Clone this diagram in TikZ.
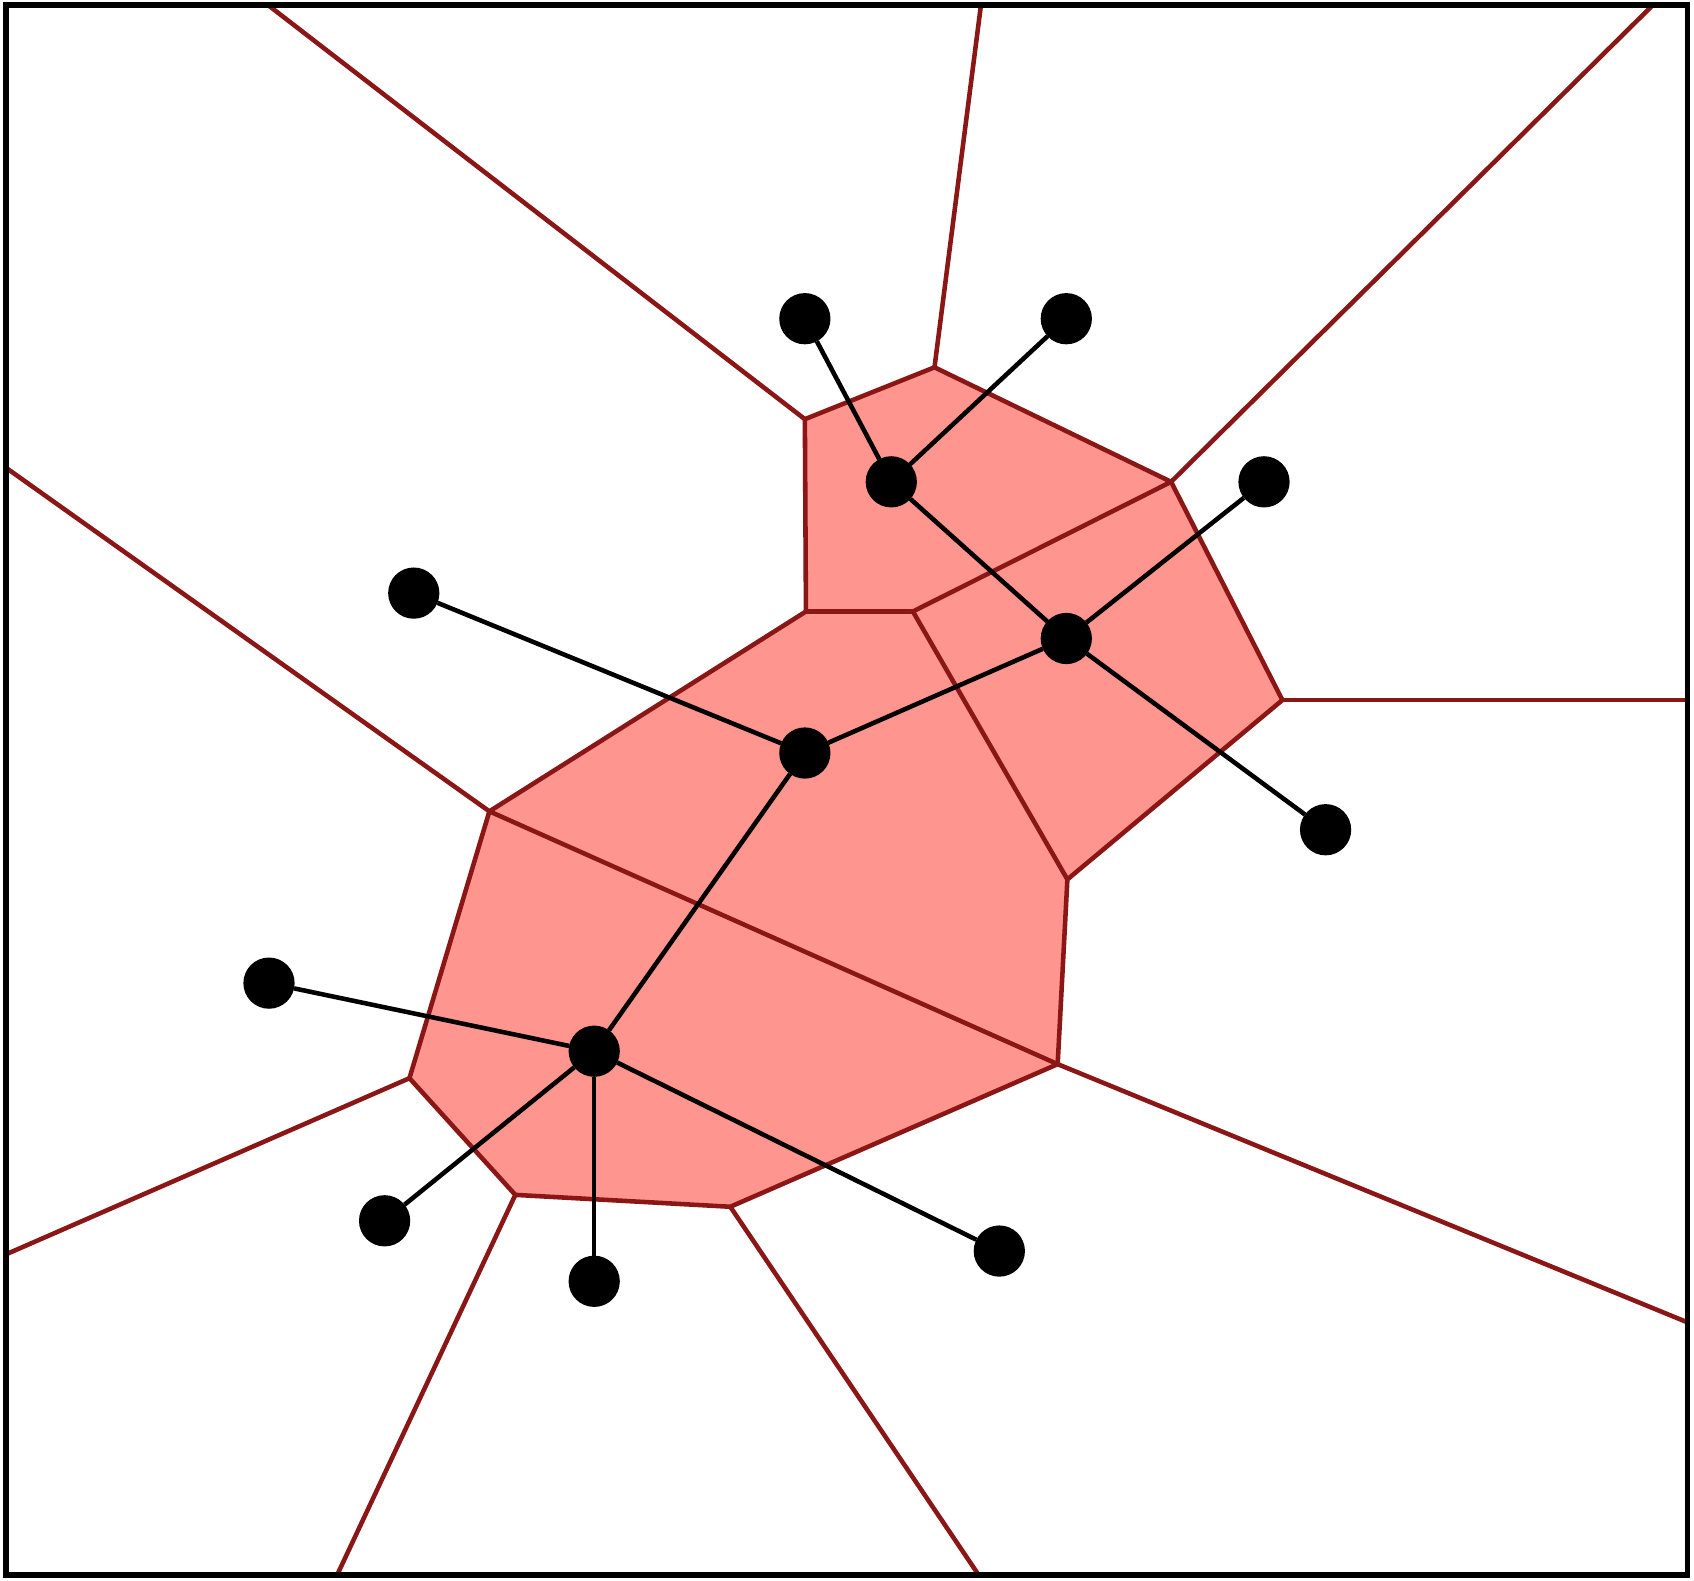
\documentclass[tikz,border=0pt]{standalone}
\usepackage{xcolor}
\usepackage{tikz}

\definecolor{celledge}{HTML}{8B1616}
\definecolor{cellfill}{HTML}{FE968F}

\tikzset{
    site/.style={draw, circle, fill=black, inner sep=0pt, minimum size=0.46cm},
    link/.style={line width=1.2pt, black},
    wall/.style={line width=1.2pt, celledge, line join=miter}
}

\begin{document}
\begin{tikzpicture}[x=0.01cm, y=-0.01cm]
    \useasboundingbox (0, 0) rectangle (1568, 1463);
    % corners of the shaded cells
    \coordinate (A) at (745, 388);
    \coordinate (B) at (865, 340);
    \coordinate (C) at (1084, 446);
    \coordinate (D) at (1187, 648);
    \coordinate (E) at (988, 814);
    \coordinate (F) at (979, 985);
    \coordinate (G) at (676, 1117);
    \coordinate (H) at (477, 1106);
    \coordinate (I) at (379, 998);
    \coordinate (J) at (453, 751);
    \coordinate (K) at (746, 566);
    \coordinate (L) at (845, 566);
    % where the open walls meet the frame
    \coordinate (a) at (248, 4.6);
    \coordinate (b) at (908, 4.6);
    \coordinate (c) at (1530, 4.6);
    \coordinate (d) at (1562, 648);
    \coordinate (f) at (1562, 1224);
    \coordinate (g) at (906, 1458);
    \coordinate (h) at (312, 1458);
    \coordinate (i) at (5.6, 1161);
    \coordinate (j) at (5.6, 433);

    \fill[cellfill] (A) -- (B) -- (C) -- (D) -- (E) -- (F) -- (G) -- (H) -- (I) -- (J) -- (K) -- cycle;
    \draw[wall] (A) -- (B) -- (C) -- (D) -- (E) -- (F) -- (G) -- (H) -- (I) -- (J) -- (K) -- cycle;
    \draw[wall] (K) -- (L);
    \draw[wall] (L) -- (C);
    \draw[wall] (L) -- (E);
    \draw[wall] (J) -- (F);
    \draw[wall] (A) -- (a);
    \draw[wall] (B) -- (b);
    \draw[wall] (C) -- (c);
    \draw[wall] (D) -- (d);
    \draw[wall] (F) -- (f);
    \draw[wall] (G) -- (g);
    \draw[wall] (H) -- (h);
    \draw[wall] (I) -- (i);
    \draw[wall] (J) -- (j);

    \node[site] at (745, 295) (s1) {};
    \node[site] at (987, 295) (s2) {};
    \node[site] at (825, 446) (s3) {};
    \node[site] at (1170, 446) (s4) {};
    \node[site] at (383, 549) (s5) {};
    \node[site] at (987, 591) (s6) {};
    \node[site] at (745, 697) (s7) {};
    \node[site] at (1227, 768) (s8) {};
    \node[site] at (249, 910) (s9) {};
    \node[site] at (550, 973) (s10) {};
    \node[site] at (356, 1130) (s11) {};
    \node[site] at (550, 1186) (s12) {};
    \node[site] at (925, 1158) (s13) {};
    \draw[link] (s1) edge (s3);
    \draw[link] (s2) edge (s3);
    \draw[link] (s3) edge (s6);
    \draw[link] (s4) edge (s6);
    \draw[link] (s6) edge (s8);
    \draw[link] (s6) edge (s7);
    \draw[link] (s5) edge (s7);
    \draw[link] (s7) edge (s10);
    \draw[link] (s9) edge (s10);
    \draw[link] (s10) edge (s11);
    \draw[link] (s10) edge (s12);
    \draw[link] (s10) edge (s13);

    \draw[line width=1.5pt] (5.6, 4.6) rectangle (1562, 1458);
\end{tikzpicture}
\end{document}
